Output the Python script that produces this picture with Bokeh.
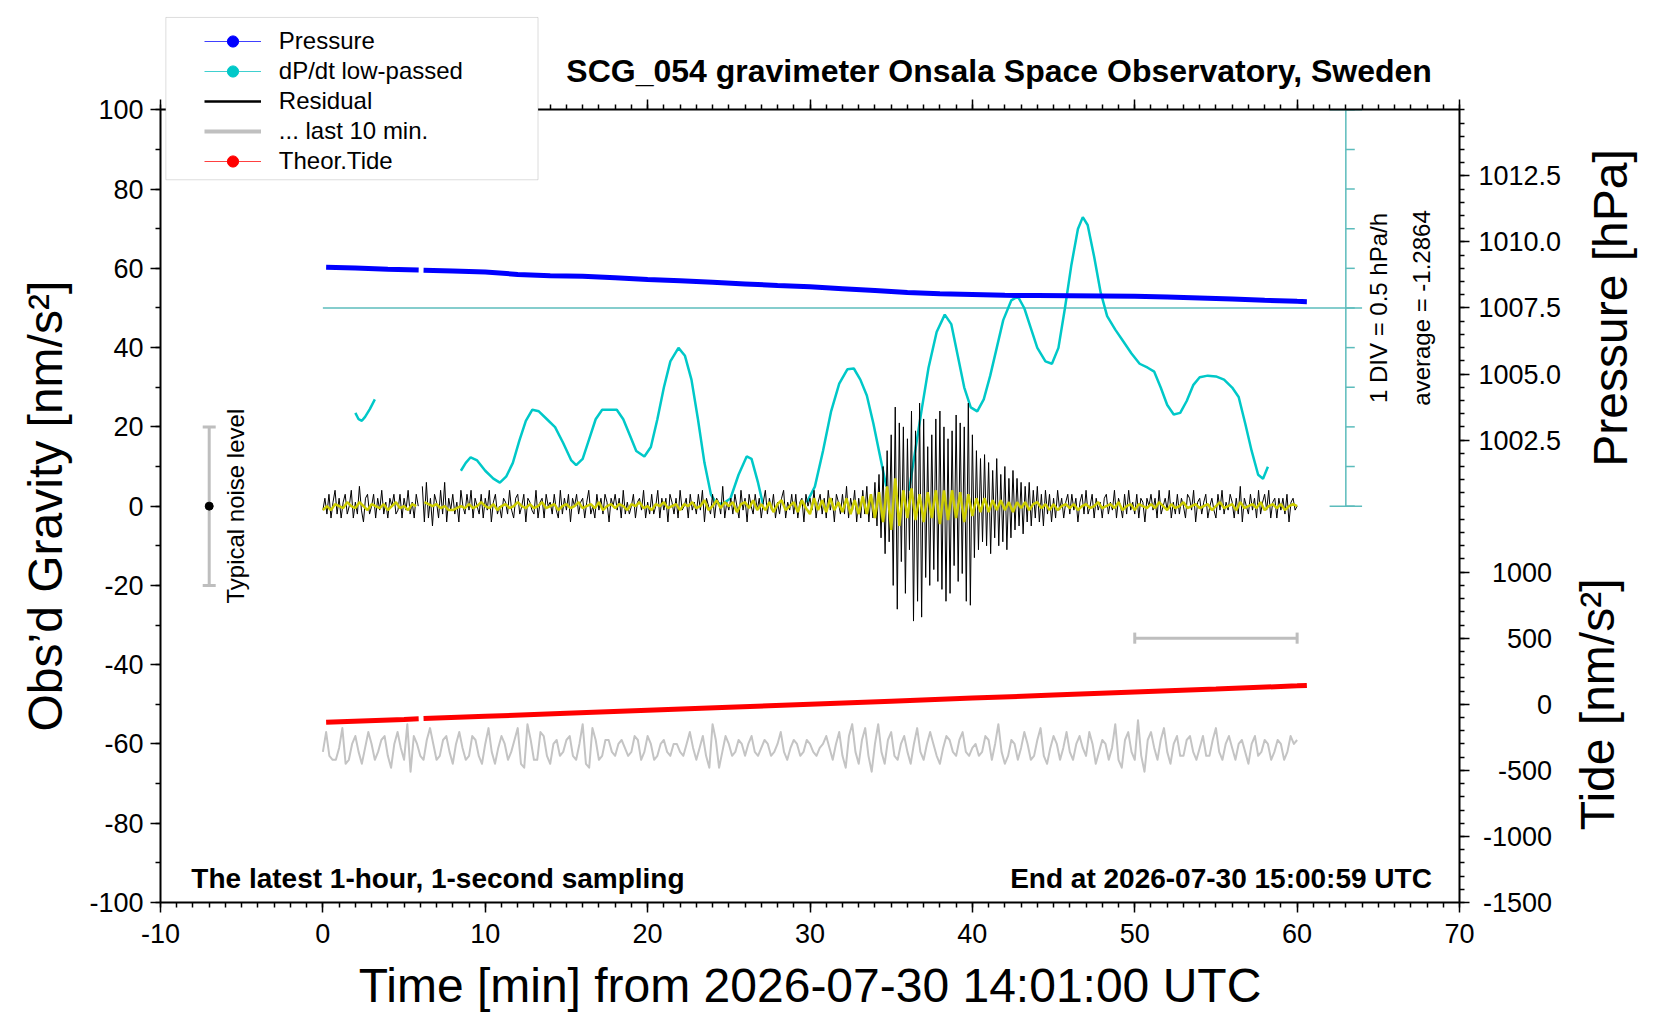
import math
from bokeh.plotting import figure
from bokeh.models import (Range1d, LinearAxis, FixedTicker, Label, LabelSet,
                          Legend, LegendItem, ColumnDataSource, BoxAnnotation)
from bokeh.core.properties import value
from bokeh.embed import file_html
from bokeh.resources import INLINE

nan = float("nan")
FONT = "Liberation Sans"

# ---- data ----
# residual gravity [nm/s^2], one value every 0.125 min, rows = 1 minute
resid = [
    -1, 2, -2, 3, -3, 1, 4, -2,
    2, -3, 1, 3, -2, 0, 4, -3,
    1, -2, 5, -1, -4, 2, 3, -2,
    0, 3, -3, 2, -1, 4, -2, 1,
    -3, 2, 0, 3, -2, -1, 3, -3,
    2, -1, 4, -2, 1, -3, 3, 0,
    nan, 5, -4, 6, -3, 2, -5, 3,
    1, -3, 4, -2, 6, -4, 2, -1,
    3, -2, 1, -4, 4, 0, -2, 3,
    -1, 4, -3, 2, 0, -2, 3, -3,
    2, -1, 4, -4, 1, 3, -2, 0,
    -3, 2, 1, -2, 4, -1, -3, 2,
    3, -2, 0, 3, -4, 2, 1, -1,
    -2, 4, -3, 1, 2, -3, 3, 0,
    1, -2, 3, -1, -3, 4, -2, 2,
    -1, 3, -4, 2, 0, 3, -2, 1,
    2, -3, 1, 4, -2, 0, -3, 3,
    -1, 2, -2, 3, 1, -4, 2, 0,
    3, -1, 2, -3, 4, -2, 1, -2,
    0, 3, -3, 1, 2, -1, 4, -3,
    1, -2, 3, -2, 0, 4, -3, 2,
    -1, 2, -4, 3, 1, -2, 2, -3,
    4, -1, 0, 2, -3, 3, -1, 1,
    -2, 3, -1, 4, -4, 2, 0, -2,
    3, -3, 2, 1, -2, 5, -3, 1,
    -1, 2, -2, 3, 0, -3, 4, -1,
    2, -4, 3, 0, -2, 3, -1, 2,
    -3, 1, 4, -2, 2, -1, 3, -3,
    1, -2, 2, 4, -3, 1, -1, 3,
    -2, 3, -3, 1, 2, -4, 3, 0,
    2, -1, 4, -3, 1, 3, -2, 2,
    -3, 4, -1, 2, -4, 3, 1, -2,
    3, -2, 5, -3, 2, -1, 4, -4,
    2, -3, 4, -2, 5, -4, 3, -3,
    6, -5, 8, -8, 10, -12, 14, -9,
    18, -20, 25, -26, 21, -14, 20, -22,
    17, -11, 24, -29, 19, -24, 26, -28,
    22, -18, 15, -20, 18, -16, 22, -19,
    24, -21, 20, -24, 17, -22, 19, -15,
    23, -19, 21, -17, 20, -24, 26, -25,
    18, -13, 14, -11, 12, -9, 13, -10,
    11, -12, 9, -8, 12, -10, 8, -9,
    10, -11, 7, -8, 9, -6, 7, -5,
    6, -7, 5, -4, 6, -5, 4, -3,
    5, -4, 3, -5, 4, -2, 3, -4,
    2, -3, 4, -1, 2, -3, 1, 3,
    -2, 3, -1, 2, -4, 1, 3, -2,
    4, -2, 0, 3, -3, 2, -1, 1,
    -3, 2, 3, -2, 1, -1, 4, -3,
    2, 0, -3, 3, -2, 4, -1, 1,
    -2, 3, -3, 2, 1, -4, 2, 0,
    3, -1, 2, -3, 4, -2, 0, 2,
    -1, 4, -3, 1, -2, 3, -2, 2,
    0, -3, 3, 2, -1, 4, -4, 1,
    2, -2, 1, 3, -3, 0, 2, -1,
    -3, 3, -1, 4, -2, 1, -1, 3,
    1, -3, 2, -2, 5, -4, 2, 0,
    -2, 3, -1, 2, -3, 4, -2, 1,
    3, -1, 4, -3, 1, 2, -3, 2,
    -1, 2, -2, 3, -4, 1, 2, -1,
    0,
]

# low-passed residual (yellow), one value every 0.25 min
lowpass = [
    -1, 0, -1, 0.5,
    0, -0.5, 1, 0,
    -0.5, 1, 0, -1,
    0.5, 0, -0.5, 0.5,
    -1, 0, 1, -0.5,
    0, -1, 0.5, 0,
    nan, 1, 0.5, 0,
    0.5, -0.5, 0, -1,
    -1, -0.5, 0, -0.5,
    0.5, -0.5, 0, 1,
    0, -0.5, 0.5, -1,
    0, 0.5, -0.5, 0,
    1, 0, -0.5, 0.5,
    -0.5, 0, 1, -0.5,
    0, 0.5, -1, 0,
    0.5, -0.5, 0, 1,
    -0.5, 0, 0.5, -0.5,
    1, -1, 0, 0.5,
    -0.5, 0.5, 0, -1,
    0.5, 0, 1, -0.5,
    0, -1, 0.5, 0,
    1, -0.5, 0, 0.5,
    -1, 0.5, 0, 1,
    -0.5, 0, 1.5, -1,
    0, 1.5, -0.5, 1,
    0, 1, -1.5, 0.5,
    1, -0.5, 1.5, -1,
    0.5, -1, 1, -1.5,
    0.5, 1.5, -1, 0,
    1, -1.5, 1.5, -0.5,
    -2, 2, -1, 1.5,
    -1.5, 2, -1, 1,
    -1.5, 2, -2, 1.5,
    -2, 2.5, -2, 3,
    -3, 3.5, -4, 5,
    -6, 7, -5, 4,
    -3, 4.5, -3.5, 3,
    -4, 3.5, -3, 4,
    -4.5, 4, -3.5, 4,
    -3, 3.5, -4, 3,
    -2.5, 2, -1.5, 2,
    -1.5, 1.5, -1, 1.5,
    -1, 1, -1.5, 1,
    -0.5, 1, -1, 0.5,
    1, -0.5, 0.5, -1,
    0.5, -1, 0, 0.5,
    -0.5, 0.5, -1, 0,
    0.5, -0.5, 0, 1,
    -0.5, 0, 0.5, -0.5,
    1, -1, 0, 0.5,
    -1, 0.5, 0, -0.5,
    0.5, -0.5, 1, 0,
    -1, 0.5, -0.5, 0,
    1, -0.5, 0, 0.5,
    -0.5, 0, 0.5, -1,
    0, 1, -0.5, 0,
    0.5, -1, 1, -0.5,
    0, 0.5, -0.5, 1,
    -1, 0, 0.5, -0.5,
    0.5, -1, 0, 0.5,
    0,
]

# "... last 10 min." trace, deviations, one value every 0.2 min of the display
last10 = [
    -1, 4, -2, -3, -3,
    0, 5, -4, -3, 1,
    3, -1, -4, 0, 4,
    1, -3, -1, 2, 3,
    -2, -5, 1, 4, 0,
    -3, 6, -6, 3, 1,
    -2, -3, 2, 5, 1,
    -3, -2, 2, 3, -1,
    -4, 1, 4, 0, -3,
    -2, 3, 2, -2, -4,
    1, 5, -1, -4, 0,
    3, 1, -3, -1, 2,
    5, -4, -5, 6, 2,
    -3, -3, 4, 3, -2,
    -4, 1, 2, -2, -1,
    2, 3, -2, -3, 1,
    6, -4, -5, 5, 2,
    -3, -2, 2, 2, -1,
    -2, 1, 2, 0, -2,
    -1, 3, 2, -3, -1,
    3, 1, -3, -2, 1,
    2, -1, -2, 1, 1,
    -1, -2, 1, 4, 0,
    -3, 0, 3, -2, -5,
    6, 2, -5, -1, 3,
    1, -2, -1, 2, 1,
    -2, 1, 3, -1, -2,
    0, 2, 1, -2, -1,
    1, 4, -1, -3, 0,
    2, 1, -2, -1, 2,
    1, -1, -2, 0, 1,
    3, 0, -3, 1, 4,
    -2, -5, 3, 6, -1,
    -4, 2, 5, -2, -6,
    1, 6, -1, -4, 2,
    4, -2, -3, 1, 3,
    -1, -4, 1, 5, -1,
    -3, 1, 4, 1, -2,
    -4, 0, 3, 2, -1,
    -2, 2, 4, -1, -2,
    0, 1, -2, -1, 3,
    2, -3, 1, 6, -1,
    -4, -2, 2, 1, -3,
    0, 4, 1, -3, -2,
    2, 5, -2, -4, 0,
    3, 1, -3, 0, 4,
    -1, -3, 1, 3, 0,
    -2, 4, 1, -4, -1,
    2, 1, -3, 0, 6,
    -3, -5, 2, 4, -1,
    -3, 7, -2, -6, 2,
    4, 0, -3, 2, 5,
    -1, -4, 1, 3, -2,
    -2, 2, 3, -1, -3,
    0, 3, -2, -2, 2,
    5, -1, -3, 1, 3,
    0, -3, 1, 2, -1,
    -4, 1, 3, -2, -1,
    2, 1, -3, -1, 2,
    1, -3, -1, 3, 1,
    2,
]
last10_offset = -61

# dP/dt low-passed [hPa/h]
dpdt_avg = -1.2864
dpdt_t = [2.0, 2.2, 2.4, 2.6, 2.9, 3.2, nan,
          8.5, 8.8, 9.1, 9.5, 10.0, 10.5, 10.9, 11.3, 11.7, 12.1,
          12.5, 12.9, 13.3, 13.8, 14.3, 14.8, 15.3, 15.6, 16.0, 16.4,
          16.8, 17.2, 17.7, 18.1, 18.5, 18.9, 19.3, 19.8, 20.2, 20.6,
          21.0, 21.4, 21.9, 22.3, 22.7, 23.1, 23.5, 23.9, 24.2, 24.6,
          25.1, 25.6, 26.1, 26.4, 26.8, 27.1, nan,
          29.8, 30.3, 30.8, 31.3, 31.8, 32.3, 32.7, 33.1, 33.5, 33.9, 34.3, 34.7, nan,
          36.1, 36.5, 36.9, 37.3, 37.8, 38.3, 38.7, 39.1, 39.5, 39.9,
          40.3, 40.7, 41.1, 41.5, 41.9, 42.4, 42.8, 43.2, 43.6, 44.0,
          44.5, 44.9, 45.3, 45.7, 46.1, 46.5, 46.8, 47.1, 47.5, 47.9,
          48.3, 48.8, 49.3, 49.8, 50.3, 50.8, 51.2, 51.6, 52.0, 52.4,
          52.8, 53.2, 53.6, 54.0, 54.5, 55.0, 55.5, 56.0, 56.4, 56.8,
          57.2, 57.6, 57.9, 58.2]
dpdt_v = [-2.61, -2.69, -2.71, -2.66, -2.56, -2.44, nan,
          -3.34, -3.24, -3.17, -3.21, -3.34, -3.44, -3.49, -3.41, -3.24, -2.96,
          -2.71, -2.57, -2.59, -2.69, -2.79, -2.99, -3.21, -3.27, -3.19, -2.94,
          -2.69, -2.57, -2.57, -2.57, -2.69, -2.89, -3.09, -3.16, -3.04, -2.69,
          -2.29, -1.96, -1.79, -1.89, -2.19, -2.69, -3.24, -3.64, -3.74, -3.76,
          -3.69, -3.39, -3.16, -3.19, -3.49, -3.76, nan,
          -3.74, -3.54, -3.09, -2.59, -2.24, -2.06, -2.05, -2.19, -2.39, -2.74, -3.14, -3.54, nan,
          -3.59, -3.06, -2.54, -2.04, -1.59, -1.37, -1.49, -1.89, -2.29, -2.54,
          -2.59, -2.44, -2.14, -1.79, -1.44, -1.19, -1.14, -1.29, -1.54, -1.79,
          -1.96, -1.99, -1.79, -1.29, -0.74, -0.29, -0.14, -0.24, -0.64, -1.09,
          -1.39, -1.56, -1.71, -1.86, -1.99, -2.04, -2.09, -2.29, -2.51, -2.63,
          -2.61, -2.46, -2.26, -2.16, -2.14, -2.15, -2.19, -2.29, -2.41, -2.74,
          -3.09, -3.39, -3.44, -3.29]

# air pressure [hPa]
pres_t = [0.2, 2, 4, 5.9, 6.0, 6.2, 8, 10, 12, 14, 16, 18, 20, 22, 24, 26, 28, 30,
          32, 34, 36, 38, 40, 42, 44, 46, 48, 50, 52, 54, 56, 58, 60, 60.6]
pres_v = [1009.04, 1009.01, 1008.97, 1008.94, nan, 1008.93, 1008.90, 1008.86, 1008.77,
          1008.72, 1008.70, 1008.64, 1008.58, 1008.53, 1008.47, 1008.41, 1008.35, 1008.30,
          1008.23, 1008.16, 1008.09, 1008.04, 1008.01, 1007.98, 1007.97, 1007.96, 1007.95,
          1007.94, 1007.92, 1007.88, 1007.84, 1007.79, 1007.75, 1007.74]

# theoretical tide [nm/s^2]
tide_t = [0.2, 5, 5.9, 6.0, 6.2, 10, 15, 20, 25, 30, 35, 40, 45, 50, 55, 60, 60.6]
tide_v = [-135, -114, -110, nan, -108, -91, -68, -45, -22, 1, 24, 47, 70, 93, 116, 140, 143]

noise_t = -7
noise_half = 20
last10_span = [50, 60]
last10_bar_y = -33.3

x_ticks = list(range(-10, 71, 10))
y_ticks = list(range(-100, 101, 20))
pres_ticks = [1002.5, 1005.0, 1007.5, 1010.0, 1012.5]
tide_ticks = [1000, 500, 0, -500, -1000, -1500]

# ---- layout: the frame fills the canvas, the plot box is drawn by fixed axes ----
W, H = 1644, 1012
BOX_L, BOX_B = 160, 902     # canvas px of t=-10 and g=-100
PX_MIN = 16.2375            # px per minute
PX_G = 3.9635               # px per nm/s^2
x_start = -10 - BOX_L / PX_MIN
x_end = x_start + W / PX_MIN
y_start = -100 - (H - BOX_B) / PX_G
y_end = y_start + H / PX_G


def g_to(lo, per_unit):
    # secondary range whose value at g=-100 is lo, per_unit per gravity unit
    return Range1d(lo + (y_start + 100) * per_unit, lo + (y_end + 100) * per_unit)


p = figure(frame_width=W, frame_height=H,
           x_range=Range1d(x_start, x_end), y_range=Range1d(y_start, y_end),
           output_backend="svg", toolbar_location=None,
           min_border_left=0, min_border_right=0,
           min_border_top=0, min_border_bottom=0)
p.extra_y_ranges = {
    "pres": g_to(985, 30 / 200),
    "tide": g_to(-1500, 6000 / 200),
    "dpdt": g_to(dpdt_avg - 7.5, 10 / 200),
}
p.grid.visible = False
p.outline_line_color = None
p.background_fill_color = "white"
p.border_fill_color = "white"


def style(ax, standoff):
    ax.axis_line_width = 2
    ax.major_tick_line_width = 1.5
    ax.minor_tick_line_width = 1.5
    ax.major_tick_out = 10
    ax.major_tick_in = 0
    ax.minor_tick_out = 5
    ax.minor_tick_in = 0
    ax.major_label_text_font = FONT
    ax.major_label_text_font_size = "27px"
    ax.major_label_text_color = "black"
    ax.major_label_standoff = standoff


xt = FixedTicker(ticks=x_ticks, minor_ticks=list(range(-10, 71)))
xax = p.xaxis[0]
xax.ticker = xt
xax.fixed_location = -100
xax.bounds = (-10, 70)
style(xax, 11)
xax.major_label_overrides = {v: str(v) for v in x_ticks}

yax = p.yaxis[0]
yax.ticker = FixedTicker(ticks=y_ticks, minor_ticks=list(range(-100, 101, 10)))
yax.fixed_location = -10
yax.bounds = (-100, 100)
style(yax, 7)
yax.major_label_overrides = {v: str(v) for v in y_ticks}

top = LinearAxis(ticker=xt, fixed_location=100, bounds=(-10, 70))
style(top, 0)
top.major_label_text_alpha = 0
top.major_label_text_font_size = "1px"
p.add_layout(top, "above")

tide_in_pres = [985 + (t + 1500) / 200 for t in tide_ticks]
right = LinearAxis(y_range_name="pres", fixed_location=70, bounds=(985, 1015),
                   ticker=FixedTicker(ticks=pres_ticks + tide_in_pres,
                                      minor_ticks=[985 + 0.5 * i for i in range(61)]))
style(right, 9)
right.major_label_overrides = {**{v: "%.1f" % v for v in pres_ticks},
                               **{v: "" for v in tide_in_pres}}
p.add_layout(right, "right")

# teal dP/dt scale inside the box
TEAL = "#5cbcbc"
div_ticks = [dpdt_avg + 0.5 * k for k in range(-5, 6)]
p.segment(x0=63, x1=63, y0=div_ticks[0], y1=div_ticks[-1], line_color=TEAL,
          line_width=1.5, y_range_name="dpdt")
p.segment(x0=62, x1=64, y0=[div_ticks[0], div_ticks[-1]], y1=[div_ticks[0], div_ticks[-1]],
          line_color=TEAL, line_width=1.5, y_range_name="dpdt")
p.segment(x0=63, x1=63.55, y0=div_ticks, y1=div_ticks, line_color=TEAL,
          line_width=1.5, y_range_name="dpdt")
p.segment(x0=0, x1=64, y0=dpdt_avg, y1=dpdt_avg, line_color=TEAL, line_width=1.5,
          y_range_name="dpdt")

# series
p.line(dpdt_t, dpdt_v, line_color="#00c8c8", line_width=2.5, y_range_name="dpdt")
rt = [i * 0.125 for i in range(len(resid))]
p.line(rt, resid, line_color="black", line_width=1)
lt = [i * 0.25 for i in range(len(lowpass))]
p.line(lt, lowpass, line_color="#cccc00", line_width=2.5)
gt = [i * 60 / (len(last10) - 1) for i in range(len(last10))]
p.line(gt, [last10_offset + d for d in last10], line_color="#c4c4c4", line_width=2,
       line_join="round")
p.line(tide_t, tide_v, line_color="red", line_width=5, y_range_name="tide")
p.line(pres_t, pres_v, line_color="blue", line_width=5, y_range_name="pres")

# typical noise level bar
GRAY = "#bebebe"
p.segment(x0=noise_t, x1=noise_t, y0=-noise_half, y1=noise_half, line_color=GRAY, line_width=3)
p.segment(x0=noise_t - 0.4, x1=noise_t + 0.4, y0=[-noise_half, noise_half],
          y1=[-noise_half, noise_half], line_color=GRAY, line_width=3)
p.scatter([noise_t], [0], size=8, color="black")

# last 10 min span bar
p.segment(x0=last10_span[0], x1=last10_span[1], y0=last10_bar_y, y1=last10_bar_y,
          line_color=GRAY, line_width=3)
p.segment(x0=last10_span, x1=last10_span, y0=last10_bar_y - 1.4, y1=last10_bar_y + 1.4,
          line_color=GRAY, line_width=3)


def label(x, y, text, size, align="center", bold=False, angle=0.0, range_name="default",
          baseline="middle"):
    lb = Label(x=x, y=y, text=text, text_font=FONT, text_font_size=size,
               text_align=align, text_baseline=baseline, angle=angle,
               text_font_style="bold" if bold else "normal", text_color="black",
               y_range_name=range_name)
    p.add_layout(lb)


label(30.0, -120.9, "Time [min] from 2026-07-30 14:01:00 UTC", "48px", baseline="alphabetic")
label(-17.1, 0, "Obs\u2019d Gravity [nm/s\u00b2]", "48px", angle=math.pi / 2)
label(79.3, 1007.5, "Pressure [hPa]", "48px", angle=math.pi / 2, range_name="pres")
label(78.5, 0, "Tide [nm/s\u00b2]", "48px", angle=math.pi / 2, range_name="tide")
label(68.3, 109.9, "SCG_054 gravimeter Onsala Space Observatory, Sweden", "32px", "right", True)
label(-8.1, -94, "The latest 1-hour, 1-second sampling", "28px", "left", True)
label(68.3, -94, "End at 2026-07-30 15:00:59 UTC", "28px", "right", True)
label(-5.4, 0, "Typical noise level", "24px", angle=math.pi / 2)
label(65.0, dpdt_avg, "1 DIV = 0.5 hPa/h", "24px", angle=math.pi / 2, range_name="dpdt")
label(67.65, dpdt_avg, "average = %.4f" % dpdt_avg, "24px", angle=math.pi / 2, range_name="dpdt")

tide_src = ColumnDataSource(dict(y=tide_ticks, text=[str(v) for v in tide_ticks]))
p.add_layout(LabelSet(x=75.7, y="y", text="text", source=tide_src, y_range_name="tide",
                      text_align="right", text_baseline="middle",
                      text_font=value(FONT), text_font_size=value("27px"),
                      text_color="black"))

# legend: white box, then the entries on top of it
p.add_layout(BoxAnnotation(left=-9.67, right=13.25, bottom=82.35, top=123.3,
                           fill_color="white", fill_alpha=1,
                           line_color="#909090", line_width=1))

off = dict(x=[-1000], y=[-1000])
lp1 = p.line(**off, line_color="#4040ff", line_width=1)
lp2 = p.scatter(**off, color="blue")
ld1 = p.line(**off, line_color="#40d0d0", line_width=1)
ld2 = p.scatter(**off, color="#00c8c8")
lr = p.line(**off, line_color="black", line_width=2.5)
lg = p.line(**off, line_color="#c0c0c0", line_width=4)
lt1 = p.line(**off, line_color="#ff4040", line_width=1)
lt2 = p.scatter(**off, color="red")
leg_x = (-7.3 - x_start) * PX_MIN
leg_y = 837.5
leg = Legend(items=[LegendItem(label="Pressure", renderers=[lp1, lp2]),
                    LegendItem(label="dP/dt low-passed", renderers=[ld1, ld2]),
                    LegendItem(label="Residual", renderers=[lr]),
                    LegendItem(label="... last 10 min.", renderers=[lg]),
                    LegendItem(label="Theor.Tide", renderers=[lt1, lt2])],
             location=(leg_x, leg_y), padding=0, spacing=2, margin=0,
             glyph_width=57, glyph_height=28, label_height=28, label_standoff=18,
             label_text_font=FONT, label_text_font_size="24px", label_text_color="black",
             border_line_color=None, background_fill_alpha=0)
p.add_layout(leg)

open("out.html", "w").write(file_html(p, INLINE))
